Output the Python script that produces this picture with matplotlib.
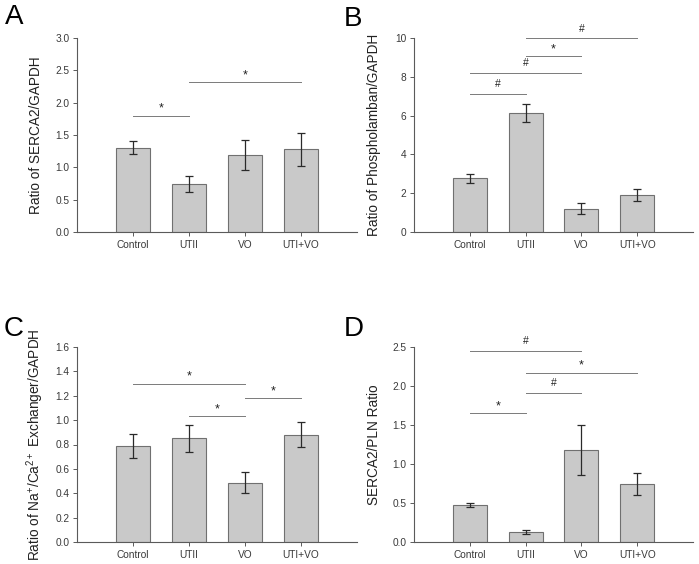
import matplotlib
matplotlib.use("Agg")
import matplotlib.pyplot as plt
import numpy as np

plt.rcParams['font.family'] = ['Liberation Sans', 'DejaVu Sans']
plt.rcParams['mathtext.default'] = 'regular'

categories = ["Control", "UTII", "VO", "UTI+VO"]

# Panel A
a_vals = [1.30, 0.74, 1.19, 1.28]
a_err = [0.10, 0.125, 0.225, 0.255]
a_sig = [(0, 1, 1.80, "*"), (1, 3, 2.32, "*")]
# Panel B
b_vals = [2.78, 6.12, 1.21, 1.92]
b_err = [0.23, 0.47, 0.28, 0.32]
b_sig = [(0, 1, 7.11, "#"), (0, 2, 8.18, "#"), (1, 2, 9.07, "*"), (1, 3, 9.98, "#")]
# Panel C
c_vals = [0.788, 0.852, 0.487, 0.880]
c_err = [0.101, 0.112, 0.088, 0.104]
c_sig = [(0, 2, 1.30, "*"), (1, 2, 1.03, "*"), (2, 3, 1.18, "*")]
# Panel D
d_vals = [0.474, 0.132, 1.18, 0.748]
d_err = [0.030, 0.027, 0.32, 0.141]
d_sig = [(0, 2, 2.45, "#"), (1, 3, 2.17, "*"), (1, 2, 1.91, "#"), (0, 1, 1.65, "*")]

panels = [
    ("A", a_vals, a_err, a_sig, (0, 3.0), np.arange(0, 3.01, 0.5), "%.1f",
     "Ratio of SERCA2/GAPDH"),
    ("B", b_vals, b_err, b_sig, (0, 10), np.arange(0, 10.1, 2), "%d",
     "Ratio of Phospholamban/GAPDH"),
    ("C", c_vals, c_err, c_sig, (0, 1.6), np.arange(0, 1.61, 0.2), "%.1f",
     "Ratio of Na$^{+}$/Ca$^{2+}$ Exchanger/GAPDH"),
    ("D", d_vals, d_err, d_sig, (0, 2.5), np.arange(0, 2.51, 0.5), "%.1f",
     "SERCA2/PLN Ratio"),
]

W, H = 699, 564
fig = plt.figure(figsize=(W / 100, H / 100), dpi=100)

rects = {
    "A": (77, 38, 357, 232),
    "B": (414, 38, 693, 232),
    "C": (77, 347, 357, 542),
    "D": (414, 347, 693, 542),
}
letter_pos = {"A": (5, 4), "B": (344, 6), "C": (4, 316), "D": (344, 316)}
ylabel_x = {"A": 43, "B": 381, "C": 46, "D": 381}

txt = "#3a3a3a"
for letter, vals, errs, sigs, ylim, yticks, fmt, ylabel in panels:
    x0, y0, x1, y1 = rects[letter]
    ax = fig.add_axes([x0 / W, 1 - y1 / H, (x1 - x0) / W, (y1 - y0) / H])
    x = np.arange(len(categories))
    ax.bar(x, vals, width=0.61, color="#c9c9c9", edgecolor="#707070", linewidth=0.8, zorder=2)
    ax.errorbar(x, vals, yerr=errs, fmt="none", ecolor="#2a2a2a", elinewidth=0.9,
                capsize=3.2, capthick=0.9, zorder=3)
    ax.set_xlim(-1, 4)
    ax.set_ylim(*ylim)
    ax.set_yticks(yticks)
    ax.set_yticklabels([fmt % t for t in yticks])
    ax.set_xticks(x)
    ax.set_xticklabels(categories)
    for s in ["top", "right"]:
        ax.spines[s].set_visible(False)
    for s in ["left", "bottom"]:
        ax.spines[s].set_color("#5a5a5a")
        ax.spines[s].set_linewidth(0.8)
    ax.tick_params(axis="both", direction="out", length=3, width=0.7, colors="#5a5a5a",
                   labelsize=7.3, labelcolor=txt, pad=2.5)
    ax.set_ylabel(ylabel, fontsize=9.8, color="#222222")
    ax.yaxis.set_label_coords((ylabel_x[letter] - x0) / (x1 - x0), 0.5)
    yr = ylim[1] - ylim[0]
    for i, j, yv, sym in sigs:
        ax.plot([i, j], [yv, yv], color="#7a7a7a", lw=0.7, clip_on=False, zorder=1)
        if sym == "*":
            ax.text((i + j) / 2, yv + 0.005 * yr, sym, ha="center", va="bottom",
                    fontsize=9, color="#222222", clip_on=False)
        else:
            ax.text((i + j) / 2, yv + 0.025 * yr, sym, ha="center", va="bottom",
                    fontsize=7.5, color="#222222", clip_on=False)
    lx, ly = letter_pos[letter]
    fig.text(lx / W, 1 - ly / H, letter, fontsize=20, ha="left", va="top", color="black")

fig.savefig("out.png", dpi=100)
